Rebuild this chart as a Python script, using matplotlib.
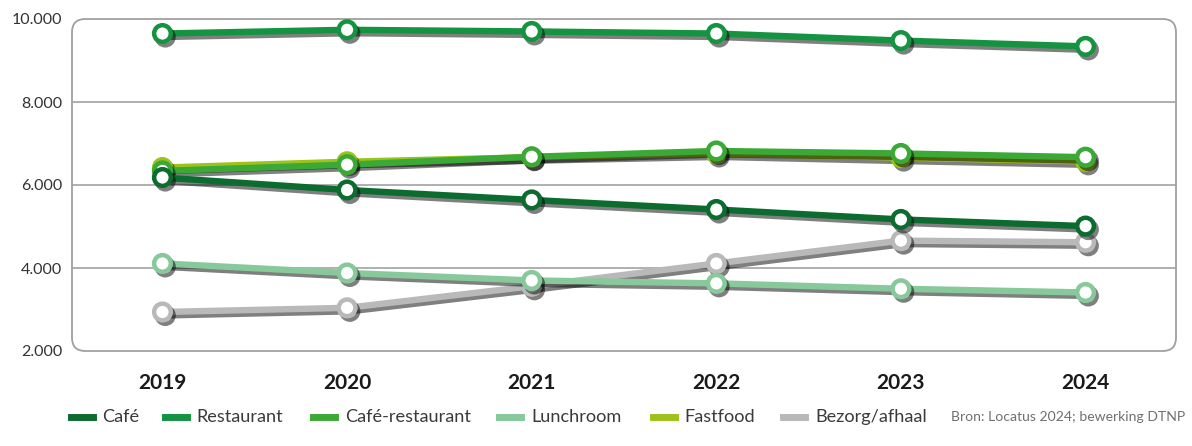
import numpy as np
import matplotlib
matplotlib.use("Agg")
import matplotlib.pyplot as plt
import matplotlib.patheffects as pe
from matplotlib.lines import Line2D
from matplotlib.patches import FancyBboxPatch
from matplotlib.ticker import FuncFormatter

plt.rcParams['font.family'] = ['Lato', 'DejaVu Sans']

years = [2019, 2020, 2021, 2022, 2023, 2024]
cafe = [6180, 5880, 5640, 5410, 5170, 5010]
restaurant = [9650, 9740, 9700, 9650, 9480, 9340]
cafe_restaurant = [6340, 6490, 6680, 6820, 6760, 6670]
lunchroom = [4110, 3880, 3700, 3630, 3500, 3410]
fastfood = [6420, 6560, 6670, 6760, 6660, 6570]
bezorg = [2940, 3040, 3560, 4110, 4660, 4620]

labels = ['Café', 'Restaurant', 'Café-restaurant', 'Lunchroom', 'Fastfood', 'Bezorg/afhaal']
colors = ['#0c6b2f', '#149340', '#3ba935', '#88c99b', '#9dc31b', '#b9b9b9']
series = [cafe, restaurant, cafe_restaurant, lunchroom, fastfood, bezorg]
# drawing order: bottom first
draw_order = [5, 3, 4, 2, 0, 1]

W, H = 1192, 446
fig = plt.figure(figsize=(W / 100, H / 100), dpi=100)
ax = fig.add_axes([72 / W, 1 - 351 / H, (1176 - 72) / W, (351 - 19) / H])

shadow = [pe.SimpleLineShadow(offset=(2, -2.5), shadow_color='black', alpha=0.5),
          pe.Normal()]

for i in draw_order:
    ax.plot(years, series[i], color=colors[i], lw=4.6, marker='o', ms=12,
            mfc='white', mec=colors[i], mew=3.2, solid_capstyle='round',
            path_effects=shadow, zorder=3 + draw_order.index(i))

ax.set_xlim(2018.51, 2024.49)
ax.set_ylim(2000, 10000)
ax.set_yticks([2000, 4000, 6000, 8000, 10000])
ax.yaxis.set_major_formatter(FuncFormatter(lambda v, p: f"{int(v):,}".replace(",", ".")))
ax.set_xticks(years)
for y in [4000, 6000, 8000]:
    ax.axhline(y, color='#9a9a9a', lw=1.1, zorder=1)

for s in ax.spines.values():
    s.set_visible(False)
frame = FancyBboxPatch((0, 0), 1, 1, boxstyle='round,pad=0,rounding_size=0.012',
                       transform=ax.transAxes, fill=False, ec='#a0a0a0', lw=1.3,
                       clip_on=False, zorder=1, mutation_aspect=1104 / 332)
ax.add_patch(frame)

ax.tick_params(axis='both', length=0)
ax.tick_params(axis='y', pad=7, labelsize=11.5, labelcolor='#333333')
ax.tick_params(axis='x', pad=16, labelsize=15, labelcolor='#1a1a1a')
for t in ax.get_xticklabels():
    t.set_fontweight('bold')

# legend, placed item by item
handle_x = [71, 165, 313, 499, 653, 783]
text_x = [102, 196, 345, 531, 684, 815]
ly = 1 - 417 / H
for c, lab, hx, tx in zip(colors, labels, handle_x, text_x):
    fig.add_artist(Line2D([hx / W, (hx + 22) / W], [ly, ly], color=c, lw=5))
    fig.text(tx / W, ly, lab, fontsize=13.1, color='#3a3a3a', va='center')
fig.text(951 / W, ly, 'Bron: Locatus 2024; bewerking DTNP',
         fontsize=10.1, color='#707070', va='center')

fig.savefig('out.png', dpi=100, facecolor='white')
